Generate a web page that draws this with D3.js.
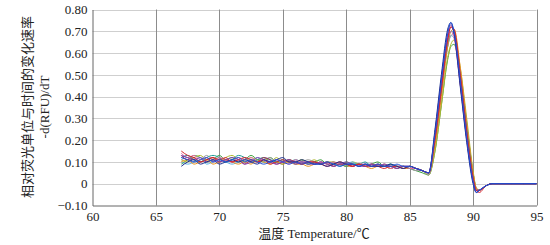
<!DOCTYPE html>
<html>
<head>
<meta charset="utf-8">
<script src="https://cdn.jsdelivr.net/npm/d3@7"></script>
<style>
  body { margin: 0; background: #fff; }
  svg { display: block; }
</style>
</head>
<body>
<div id="chart"></div>
<script>
// temperatures (degC) shared by all melt curves
var temps = [67, 67.5, 68, 68.5, 69, 69.5, 70, 70.5, 71, 71.5, 72, 72.5, 73, 73.5, 74, 74.5,
    75, 75.5, 76, 76.5, 77, 77.5, 78, 78.5, 79, 79.5, 80, 80.5, 81, 81.5, 82, 82.5, 83, 83.5,
    84, 84.5, 85, 85.5, 86,
    86.5, 87, 87.5, 88, 88.25, 88.5, 89, 89.5, 90, 90.25, 90.5, 91, 91.5, 92, 93, 94, 95];

var xTicks = [60, 65, 70, 75, 80, 85, 90, 95];
var yTicks = [-0.1, 0, 0.1, 0.2, 0.3, 0.4, 0.5, 0.6, 0.7, 0.8];

// -d(RFU)/dT for each well
var curveBlue = [0.12,0.11,0.10,0.11,0.12,0.10,0.11,0.10,0.11,0.12,0.10,0.11,0.10,0.09,0.10,0.11,0.10,0.09,0.10,0.09,0.10,0.09,0.09,0.10,0.09,0.08,0.09,0.09,0.08,0.09,0.08,0.09,0.08,0.08,0.09,0.08,0.08,0.07,0.06,
    0.05,0.23,0.47,0.69,0.74,0.70,0.47,0.21,0.01,-0.04,-0.03,-0.01,0.00,0.00,0.00,0.00,0.00];
var curveRed = [0.15,0.13,0.12,0.10,0.11,0.12,0.11,0.12,0.10,0.11,0.12,0.11,0.10,0.11,0.09,0.10,0.11,0.10,0.10,0.09,0.10,0.10,0.09,0.08,0.09,0.10,0.09,0.08,0.09,0.08,0.09,0.08,0.07,0.08,0.08,0.07,0.08,0.07,0.06,
    0.05,0.20,0.43,0.66,0.72,0.71,0.50,0.24,0.03,-0.03,-0.04,-0.01,0.00,0.00,0.00,0.00,0.00];
var curveGreen = [0.09,0.11,0.13,0.12,0.10,0.11,0.13,0.11,0.12,0.10,0.11,0.13,0.11,0.10,0.12,0.10,0.09,0.11,0.10,0.11,0.09,0.10,0.11,0.09,0.10,0.08,0.10,0.09,0.09,0.08,0.09,0.10,0.08,0.09,0.07,0.08,0.07,0.06,0.05,
    0.04,0.15,0.36,0.57,0.63,0.64,0.50,0.27,0.05,-0.02,-0.03,-0.01,0.00,0.00,0.00,0.00,0.00];
var curvePurple = [0.13,0.12,0.11,0.12,0.10,0.11,0.10,0.11,0.12,0.11,0.09,0.10,0.12,0.11,0.10,0.09,0.10,0.11,0.09,0.10,0.09,0.09,0.10,0.09,0.08,0.09,0.10,0.09,0.08,0.08,0.09,0.08,0.09,0.08,0.07,0.08,0.08,0.07,0.06,
    0.05,0.24,0.48,0.69,0.73,0.69,0.45,0.20,0.01,-0.04,-0.03,-0.01,0.00,0.00,0.00,0.00,0.00];
var curveOrange = [0.10,0.11,0.09,0.10,0.11,0.09,0.10,0.11,0.10,0.09,0.10,0.09,0.11,0.10,0.09,0.10,0.09,0.10,0.09,0.09,0.08,0.09,0.10,0.09,0.08,0.09,0.08,0.08,0.09,0.08,0.07,0.08,0.08,0.07,0.08,0.07,0.07,0.07,0.06,
    0.05,0.18,0.40,0.63,0.70,0.71,0.53,0.28,0.05,-0.02,-0.03,-0.01,0.00,0.00,0.00,0.00,0.00];
var curveTeal = [0.12,0.13,0.11,0.10,0.12,0.13,0.12,0.10,0.11,0.13,0.12,0.10,0.11,0.12,0.11,0.10,0.11,0.10,0.11,0.10,0.09,0.10,0.09,0.10,0.09,0.09,0.08,0.09,0.09,0.10,0.08,0.09,0.08,0.09,0.08,0.08,0.07,0.07,0.06,
    0.05,0.21,0.44,0.65,0.70,0.69,0.49,0.25,0.03,-0.03,-0.03,-0.01,0.00,0.00,0.00,0.00,0.00];
var curvePink = [0.14,0.12,0.13,0.11,0.12,0.10,0.12,0.11,0.10,0.12,0.11,0.12,0.10,0.11,0.10,0.11,0.10,0.09,0.11,0.10,0.10,0.09,0.10,0.09,0.10,0.09,0.09,0.08,0.09,0.09,0.08,0.08,0.09,0.07,0.08,0.08,0.07,0.07,0.06,
    0.05,0.23,0.46,0.66,0.70,0.67,0.45,0.21,0.02,-0.03,-0.03,-0.01,0.00,0.00,0.00,0.00,0.00];
var curveNavy = [0.08,0.10,0.11,0.09,0.10,0.11,0.09,0.10,0.11,0.10,0.11,0.10,0.09,0.11,0.10,0.11,0.12,0.10,0.10,0.11,0.10,0.09,0.09,0.08,0.09,0.10,0.09,0.09,0.08,0.09,0.08,0.08,0.08,0.09,0.08,0.07,0.08,0.07,0.06,
    0.05,0.25,0.50,0.71,0.74,0.69,0.44,0.19,0.00,-0.04,-0.03,-0.01,0.00,0.00,0.00,0.00,0.00];
var curveOlive = [0.11,0.10,0.12,0.13,0.11,0.12,0.10,0.12,0.13,0.11,0.10,0.12,0.11,0.12,0.10,0.12,0.10,0.11,0.10,0.11,0.10,0.11,0.09,0.10,0.10,0.09,0.08,0.10,0.09,0.08,0.09,0.08,0.09,0.08,0.08,0.07,0.08,0.07,0.06,
    0.04,0.15,0.36,0.58,0.64,0.66,0.53,0.30,0.06,-0.02,-0.03,-0.01,0.00,0.00,0.00,0.00,0.00];
var curveSky = [0.10,0.09,0.10,0.12,0.09,0.10,0.11,0.10,0.09,0.10,0.11,0.10,0.12,0.10,0.11,0.10,0.10,0.11,0.09,0.10,0.10,0.09,0.10,0.09,0.09,0.08,0.09,0.10,0.08,0.09,0.09,0.08,0.08,0.07,0.08,0.08,0.07,0.07,0.06,
    0.05,0.20,0.43,0.63,0.68,0.67,0.49,0.25,0.03,-0.03,-0.03,-0.01,0.00,0.00,0.00,0.00,0.00];
var curveCrimson = [0.13,0.11,0.12,0.10,0.11,0.12,0.10,0.11,0.10,0.11,0.09,0.11,0.10,0.12,0.11,0.09,0.10,0.11,0.10,0.09,0.10,0.10,0.09,0.10,0.08,0.09,0.09,0.08,0.09,0.08,0.08,0.09,0.08,0.08,0.07,0.08,0.08,0.07,0.06,
    0.05,0.22,0.45,0.67,0.72,0.70,0.48,0.23,0.02,-0.03,-0.03,-0.01,0.00,0.00,0.00,0.00,0.00];
var curveGray = [0.11,0.12,0.10,0.11,0.13,0.11,0.12,0.10,0.11,0.10,0.12,0.11,0.10,0.11,0.12,0.10,0.11,0.10,0.09,0.10,0.11,0.10,0.09,0.10,0.09,0.10,0.09,0.08,0.09,0.08,0.09,0.08,0.08,0.07,0.08,0.08,0.07,0.06,0.06,
    0.04,0.18,0.41,0.63,0.68,0.69,0.51,0.27,0.04,-0.02,-0.03,-0.01,0.00,0.00,0.00,0.00,0.00];

var curves = [curveGreen, curveOlive, curveSky, curveGray, curveOrange, curveTeal,
    curvePink, curveCrimson, curveRed, curvePurple, curveNavy, curveBlue];
var curveColors = ["#3aa040", "#b0b830", "#5fb0e0", "#9a9a9a", "#e8901e", "#1f9a96",
    "#e46aa8", "#b02a5a", "#d8242c", "#8040b0", "#1c2e90", "#2050d8"];

var width = 550, height = 245;
var margin = {top: 9.5, right: 13.5, bottom: 39.5, left: 92.5};
var serif = "'Liberation Serif', 'Times New Roman', serif";

var svg = d3.select("#chart").append("svg")
    .attr("width", width)
    .attr("height", height);

var x = d3.scaleLinear().domain([60, 95]).range([margin.left, width - margin.right]);
var y = d3.scaleLinear().domain([-0.1, 0.8]).range([height - margin.bottom, margin.top]);

// horizontal grid
svg.append("g").selectAll("line")
    .data(yTicks.filter(function(d) { return d > -0.1; }))
    .enter().append("line")
    .attr("x1", x(60)).attr("x2", x(95))
    .attr("y1", function(d) { return Math.round(y(d)) + 0.5; })
    .attr("y2", function(d) { return Math.round(y(d)) + 0.5; })
    .attr("stroke", "#cfcfcf");

// vertical grid
svg.append("g").selectAll("line")
    .data(xTicks.filter(function(d) { return d > 60; }))
    .enter().append("line")
    .attr("x1", function(d) { return Math.round(x(d)) + 0.5; })
    .attr("x2", function(d) { return Math.round(x(d)) + 0.5; })
    .attr("y1", y(0.8)).attr("y2", y(-0.1))
    .attr("stroke", "#8c8c8c");

// curves
var line = d3.line()
    .x(function(d, i) { return x(temps[i]); })
    .y(function(d) { return y(d); })
    .curve(d3.curveMonotoneX);

svg.append("g").selectAll("path")
    .data(curves)
    .enter().append("path")
    .attr("d", line)
    .attr("fill", "none")
    .attr("stroke", function(d, i) { return curveColors[i]; })
    .attr("stroke-width", 1);

// axes
var xAxis = svg.append("g")
    .attr("transform", "translate(0," + y(-0.1) + ")")
    .call(d3.axisBottom(x).tickValues(xTicks).tickSize(0).tickPadding(6).tickFormat(d3.format("d")));
xAxis.select(".domain").attr("stroke", "#666");

var yAxis = svg.append("g")
    .attr("transform", "translate(" + x(60) + ",0)")
    .call(d3.axisLeft(y).tickValues(yTicks).tickSize(0).tickPadding(5)
        .tickFormat(function(d) { return d === 0 ? "0" : d3.format(".2f")(d).replace("-", "\u2212"); }));
yAxis.select(".domain").attr("stroke", "#666");

svg.selectAll(".tick text")
    .attr("font-family", serif)
    .attr("font-size", "13px")
    .attr("fill", "#222");

// labels
svg.append("text")
    .attr("transform", "translate(32,107) rotate(-90)")
    .attr("text-anchor", "middle")
    .attr("font-family", "'Noto Sans CJK SC', sans-serif")
    .attr("font-size", "13px")
    .attr("fill", "#222")
    .text("相对荧光单位与时间的变化速率");

svg.append("text")
    .attr("transform", "translate(49,107) rotate(-90)")
    .attr("text-anchor", "middle")
    .attr("font-family", serif)
    .attr("font-size", "13px")
    .attr("fill", "#222")
    .text("-d(RFU)/dT");

svg.append("text")
    .attr("x", 314)
    .attr("y", 238)
    .attr("text-anchor", "middle")
    .attr("font-family", "'Liberation Serif', 'Noto Sans CJK SC', serif")
    .attr("font-size", "13px")
    .attr("fill", "#222")
    .text("温度  Temperature/℃");
</script>
</body>
</html>
